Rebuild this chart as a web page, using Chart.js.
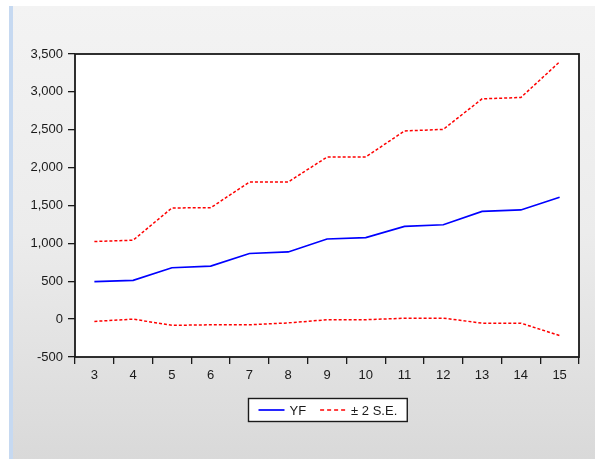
<!DOCTYPE html>
<html>
<head>
<meta charset="utf-8">
<script src="https://cdn.jsdelivr.net/npm/chart.js@4/dist/chart.umd.min.js"></script>
<style>
  html, body { margin:0; padding:0; width:595px; height:459px; overflow:hidden; background:#ffffff; }
  #bg { position:absolute; left:9px; top:6px; width:582px; height:453px;
        border-left:4px solid #c6d9f1; border-right:2px solid #e9eef5;
        background: linear-gradient(to bottom, #f3f3f3 0%, #ececec 50%, #d9d9d9 100%); }
  #c { position:absolute; left:0; top:0; }
</style>
</head>
<body>
<div id="bg"></div>
<canvas id="c" width="595" height="459"></canvas>
<script>
const categories = ['3','4','5','6','7','8','9','10','11','12','13','14','15'];
const yfValues    = [495, 512, 678, 700, 866, 887, 1058, 1077, 1225, 1246, 1422, 1441, 1609];
const upperValues = [1025, 1042, 1468, 1470, 1809, 1811, 2139, 2141, 2484, 2505, 2908, 2926, 3396];
const lowerValues = [-30, 0, -82, -75, -75, -50, -8, -8, 12, 13, -53, -53, -217];
const yTickValues = [-500, 0, 500, 1000, 1500, 2000, 2500, 3000, 3500];
const seriesLabels = ['YF', '\u00B1 2 S.E.'];

const FONT = '"Liberation Sans", Arial, sans-serif';
const TXT = '#1a1a1a';

const framePlugin = {
  id: 'frame',
  beforeDatasetsDraw(chart) {
    const a = chart.chartArea, ctx = chart.ctx;
    ctx.save();
    ctx.fillStyle = '#ffffff';
    ctx.fillRect(a.left, a.top, a.right - a.left, a.bottom - a.top);
    ctx.restore();
  },
  afterDatasetsDraw(chart) {
    const a = chart.chartArea, ctx = chart.ctx;
    ctx.save();
    ctx.strokeStyle = '#1a1a1a';
    ctx.lineWidth = 1.8;
    ctx.strokeRect(a.left, a.top, a.right - a.left, a.bottom - a.top);
    ctx.restore();
  }
};

const legendPlugin = {
  id: 'boxLegend',
  afterDraw(chart) {
    const ctx = chart.ctx, a = chart.chartArea;
    ctx.save();
    ctx.font = '13px ' + FONT;
    const ds = chart.data.datasets;
    const items = [];
    ds.forEach(d => { if (!d.hideInLegend) items.push(d); });
    const sample = 26, gap1 = 5, gap2 = 14, padX = 10;
    let total = padX * 2;
    items.forEach((d, i) => {
      total += sample + gap1 + ctx.measureText(d.label).width;
      if (i < items.length - 1) total += gap2;
    });
    const cx = (a.left + a.right) / 2;
    const bx = Math.round(cx - total / 2) + 0.5, by = 398.5, bh = 23;
    ctx.fillStyle = '#ffffff';
    ctx.fillRect(bx, by, total, bh);
    ctx.strokeStyle = '#1a1a1a';
    ctx.lineWidth = 1.4;
    ctx.strokeRect(bx, by, total, bh);
    let x = bx + padX;
    const yMid = by + bh / 2;
    items.forEach((d, i) => {
      ctx.beginPath();
      ctx.strokeStyle = d.borderColor;
      ctx.lineWidth = d.borderWidth;
      ctx.setLineDash(d.legendDash || []);
      ctx.moveTo(x, yMid);
      ctx.lineTo(x + sample, yMid);
      ctx.stroke();
      ctx.setLineDash([]);
      x += sample + gap1;
      ctx.fillStyle = TXT;
      ctx.textBaseline = 'middle';
      ctx.textAlign = 'left';
      ctx.fillText(d.label, x, yMid + 1);
      x += ctx.measureText(d.label).width + gap2;
    });
    ctx.restore();
  }
};

new Chart(document.getElementById('c'), {
  type: 'line',
  data: {
    labels: categories,
    datasets: [
      { label: seriesLabels[0], data: yfValues, borderColor: '#0000ff', borderWidth: 1.7,
        pointRadius: 0, tension: 0, fill: false },
      { label: seriesLabels[1], data: upperValues, borderColor: '#ff0000', borderWidth: 1.5,
        borderDash: [3, 2], legendDash: [4, 3], pointRadius: 0, tension: 0, fill: false },
      { label: seriesLabels[1], data: lowerValues, borderColor: '#ff0000', borderWidth: 1.5,
        borderDash: [3, 2], pointRadius: 0, tension: 0, fill: false, hideInLegend: true }
    ]
  },
  options: {
    responsive: false,
    animation: false,
    layout: { padding: { left: 0, top: 54, right: 16, bottom: 0 } },
    plugins: { legend: { display: false }, tooltip: { enabled: false } },
    scales: {
      x: {
        type: 'category',
        offset: true,
        grid: { display: true, drawOnChartArea: false, drawTicks: true, tickLength: 7,
                color: '#1a1a1a', lineWidth: 1.3, offset: true },
        border: { display: false },
        ticks: { color: TXT, font: { family: FONT, size: 13 }, padding: 4, maxRotation: 0, autoSkip: false },
        afterFit(scale) { scale.height = 102; }
      },
      y: {
        min: -500, max: 3500,
        afterBuildTicks(scale) { scale.ticks = yTickValues.map(v => ({ value: v })); },
        grid: { display: true, drawOnChartArea: false, drawTicks: true, tickLength: 7,
                color: '#1a1a1a', lineWidth: 1.3 },
        border: { display: false },
        ticks: { color: TXT, font: { family: FONT, size: 13 }, padding: 5,
                 callback: v => v.toLocaleString('en-US') },
        afterFit(scale) { scale.width = 75; }
      }
    }
  },
  plugins: [framePlugin, legendPlugin]
});
</script>
</body>
</html>
